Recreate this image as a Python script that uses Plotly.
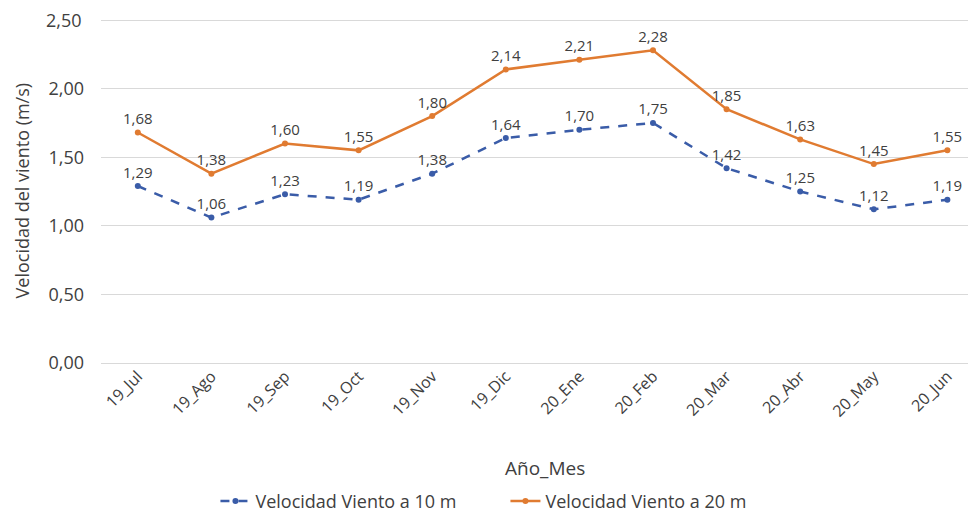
import plotly.graph_objects as go

categories = ["19_Jul", "19_Ago", "19_Sep", "19_Oct", "19_Nov", "19_Dic",
              "20_Ene", "20_Feb", "20_Mar", "20_Abr", "20_May", "20_Jun"]
v10 = [1.29, 1.06, 1.23, 1.19, 1.38, 1.64, 1.70, 1.75, 1.42, 1.25, 1.12, 1.19]
v20 = [1.68, 1.38, 1.60, 1.55, 1.80, 2.14, 2.21, 2.28, 1.85, 1.63, 1.45, 1.55]
y_ticks = [0, 0.5, 1.0, 1.5, 2.0, 2.5]

def fmt(v):
    return f"{v:.2f}".replace(".", ",")

FONT = "Open Sans, Liberation Sans, sans-serif"
TXT = "#404040"
fig = go.Figure()
fig.add_trace(go.Scatter(
    x=categories, y=v10, name="Velocidad Viento a 10 m",
    mode="lines+markers+text", text=[fmt(v) for v in v10], textposition="top center",
    line=dict(color="#3A5CA8", width=2.5, dash="dash"),
    marker=dict(size=6, color="#3A5CA8"),
    textfont=dict(size=15, color=TXT, family=FONT),
))
fig.add_trace(go.Scatter(
    x=categories, y=v20, name="Velocidad Viento a 20 m",
    mode="lines+markers+text", text=[fmt(v) for v in v20], textposition="top center",
    line=dict(color="#E07B31", width=2.5),
    marker=dict(size=6, color="#E07B31"),
    textfont=dict(size=15, color=TXT, family=FONT),
))

top_tick = y_ticks[-1]
tick_text = [fmt(v) for v in y_ticks[:-1]] + [""]

fig.update_layout(
    width=960, height=513,
    margin=dict(l=93, r=0, t=9, b=158, autoexpand=False),
    paper_bgcolor="white", plot_bgcolor="white",
    separators=",.",
    font=dict(family=FONT, color=TXT),
    legend=dict(orientation="h", x=0.132, xanchor="left", y=-0.4, yanchor="middle",
                font=dict(size=18, color=TXT), traceorder="normal",
                entrywidth=245, entrywidthmode="pixels"),
    xaxis=dict(
        range=[-0.5, 11.28],
        tickangle=-45, tickfont=dict(size=16, color=TXT),
        showgrid=False, showline=False, zeroline=False, ticks="", automargin=False,
    ),
    yaxis=dict(
        range=[0, 2.522], tickmode="array", tickvals=y_ticks, ticktext=tick_text,
        tickfont=dict(size=18, color=TXT), ticklabelstandoff=16,
        showgrid=True, gridcolor="#D9D9D9", gridwidth=1,
        zeroline=True, zerolinecolor="#D9D9D9", zerolinewidth=1,
        showline=False, ticks="", automargin=False,
    ),
    annotations=[
        dict(text=fmt(top_tick), x=0, xref="paper", y=top_tick, yref="y",
             xanchor="right", yanchor="middle", xshift=-17,
             showarrow=False, font=dict(size=18, color=TXT, family=FONT)),
        dict(text="Velocidad del viento (m/s)", x=0, xref="paper", y=0.496, yref="paper",
             xanchor="center", yanchor="middle", xshift=-79, textangle=-90,
             showarrow=False, font=dict(size=18, color=TXT, family=FONT)),
        dict(text="Año_Mes", x=0.512, xref="paper", y=0, yref="paper",
             xanchor="center", yanchor="middle", yshift=-105,
             showarrow=False, font=dict(size=19, color=TXT, family=FONT)),
    ],
)
fig.write_html("out.html")
